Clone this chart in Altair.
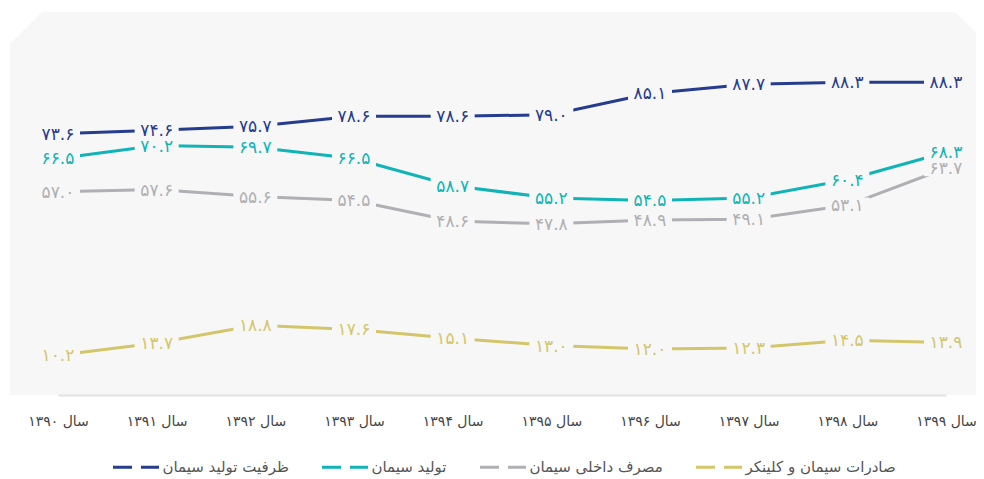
import altair as alt
import pandas as pd

FONT = "DejaVu Sans"

years = ["سال ۱۳۹۰", "سال ۱۳۹۱", "سال ۱۳۹۲", "سال ۱۳۹۳", "سال ۱۳۹۴",
         "سال ۱۳۹۵", "سال ۱۳۹۶", "سال ۱۳۹۷", "سال ۱۳۹۸", "سال ۱۳۹۹"]
series_names = ["ظرفیت تولید سیمان", "تولید سیمان", "مصرف داخلی سیمان", "صادرات سیمان و کلینکر"]
capacity = [73.6, 74.6, 75.7, 78.6, 78.6, 79.0, 85.1, 87.7, 88.3, 88.3]
production = [66.5, 70.2, 69.7, 66.5, 58.7, 55.2, 54.5, 55.2, 60.4, 68.3]
consumption = [57.0, 57.6, 55.6, 54.5, 48.6, 47.8, 48.9, 49.1, 53.1, 63.7]
exports = [10.2, 13.7, 18.8, 17.6, 15.1, 13.0, 12.0, 12.3, 14.5, 13.9]
colors = ["#263c8e", "#10b4b6", "#b0b0b4", "#d3c66a"]

fa = str.maketrans("0123456789", "۰۱۲۳۴۵۶۷۸۹")
rows = []
for name, vals in zip(series_names, [capacity, production, consumption, exports]):
    for yr, v in zip(years, vals):
        rows.append({"year": yr, "series": name, "value": v,
                     "label": f"{v:.1f}".translate(fa)})
df = pd.DataFrame(rows)

x = alt.X("year:N", sort=years,
          scale=alt.Scale(type="point", range=[48, 936], padding=0),
          axis=alt.Axis(title=None, labelAngle=0, ticks=False, grid=False,
                        domainColor="#e3e3e3", domainWidth=2,
                        labelFont=FONT, labelFontSize=14, labelColor="#444444",
                        labelPadding=19))
y = alt.Y("value:Q", scale=alt.Scale(domain=[-1.15, 108.4], nice=False, zero=False), axis=None)
color_scale = alt.Scale(domain=series_names, range=colors)

base = alt.Chart(df).encode(x=x, y=y)

lines = base.mark_line(strokeWidth=3).encode(
    color=alt.Color("series:N", scale=color_scale, sort=series_names,
                    legend=alt.Legend(title=None, orient="none", legendX=101.5, legendY=430.5,
                                      direction="horizontal", columns=4,
                                      symbolType="stroke", symbolSize=2116,
                                      symbolStrokeWidth=3, symbolDash=[19, 9],
                                      labelFont=FONT, labelFontSize=15, labelColor="#555555",
                                      labelOffset=2, columnPadding=26, padding=0))
)

boxes = base.mark_point(shape="M-1,-0.36L1,-0.36L1,0.36L-1,0.36Z", size=1936,
                        filled=True, color="#f7f7f7", opacity=1, strokeWidth=0)

texts = base.mark_text(font=FONT, fontSize=17, align="center", baseline="middle", dy=1).encode(
    text="label:N",
    color=alt.Color("series:N", scale=color_scale, legend=None)
)

corner = pd.DataFrame({"k": [0]})
tl = alt.Chart(corner).mark_point(shape="M-1,-1L1,-1L-1,1Z", size=1024, filled=True,
                                  color="white", opacity=1, strokeWidth=0).encode(
    x=alt.value(16), y=alt.value(16))
tr = alt.Chart(corner).mark_point(shape="M-1,-1L1,-1L1,1Z", size=441, filled=True,
                                  color="white", opacity=1, strokeWidth=0).encode(
    x=alt.value(955.5), y=alt.value(10.5))

chart = alt.layer(lines, boxes, texts, tl, tr).properties(
    width=966, height=383,
    padding={"left": 2, "top": 4, "right": 0, "bottom": 90},
    autosize="none",
    background="white"
).configure_view(fill="#f7f7f7", strokeWidth=0)

chart.save("out.html", embed_options={"renderer": "svg", "actions": False})
